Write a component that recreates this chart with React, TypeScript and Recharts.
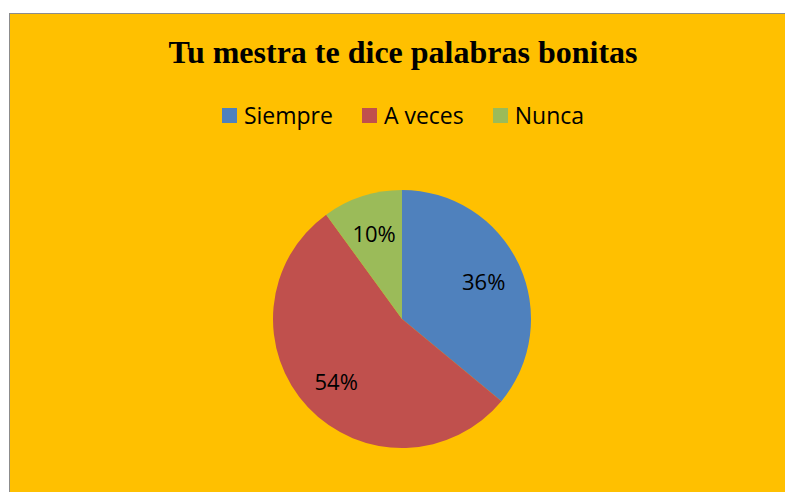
import { PieChart, Pie, Cell } from 'recharts';

const categories = ['Siempre', 'A veces', 'Nunca'];
const values = [36, 54, 10];
const colors = ['#4F81BD', '#C0504D', '#9BBB59'];

const data = categories.map((name, i) => ({ name, value: values[i] }));

const RADIAN = Math.PI / 180;

const renderLabel = ({ cx, cy, midAngle, outerRadius, percent }: any) => {
  const r = outerRadius * 0.7;
  const x = cx + r * Math.cos(-midAngle * RADIAN);
  const y = cy + r * Math.sin(-midAngle * RADIAN);
  return (
    <text
      x={x}
      y={y}
      fill="#000"
      textAnchor="middle"
      dominantBaseline="central"
      style={{ fontFamily: '"Open Sans", sans-serif', fontSize: 22 }}
    >
      {`${Math.round(percent * 100)}%`}
    </text>
  );
};

export default function App() {
  return (
    <div
      style={{
        position: 'fixed',
        left: 9,
        top: 13,
        width: 790,
        height: 490,
        background: '#FFC000',
        borderLeft: '1px solid #8c8c8c',
        borderTop: '1px solid #8c8c8c',
      }}
    >
      <div
        style={{
          position: 'absolute',
          left: 0,
          width: 786,
          top: 19,
          textAlign: 'center',
          fontFamily: '"Liberation Serif", "Times New Roman", serif',
          fontWeight: 'bold',
          fontSize: 32,
          lineHeight: '38px',
          color: '#000',
        }}
      >
        Tu mestra te dice palabras bonitas
      </div>
      <div
        style={{
          position: 'absolute',
          left: 0,
          width: 786,
          top: 84,
          display: 'flex',
          justifyContent: 'center',
          gap: 29,
          fontFamily: '"Open Sans", sans-serif',
          fontSize: 23,
          lineHeight: '34px',
          color: '#000',
        }}
      >
        {categories.map((c, i) => (
          <div key={c} style={{ display: 'flex', alignItems: 'center' }}>
            <span style={{ width: 15, height: 15, background: colors[i], marginRight: 7, display: 'inline-block' }} />
            <span>{c}</span>
          </div>
        ))}
      </div>
      <PieChart width={786} height={480} margin={{ top: 0, right: 0, bottom: 0, left: 0 }}>
        <Pie
          data={data}
          dataKey="value"
          nameKey="name"
          cx={392}
          cy={305}
          outerRadius={129}
          startAngle={90}
          endAngle={-270}
          stroke="none"
          label={renderLabel}
          labelLine={false}
          isAnimationActive={false}
        >
          {data.map((d, i) => (
            <Cell key={d.name} fill={colors[i]} />
          ))}
        </Pie>
      </PieChart>
    </div>
  );
}
